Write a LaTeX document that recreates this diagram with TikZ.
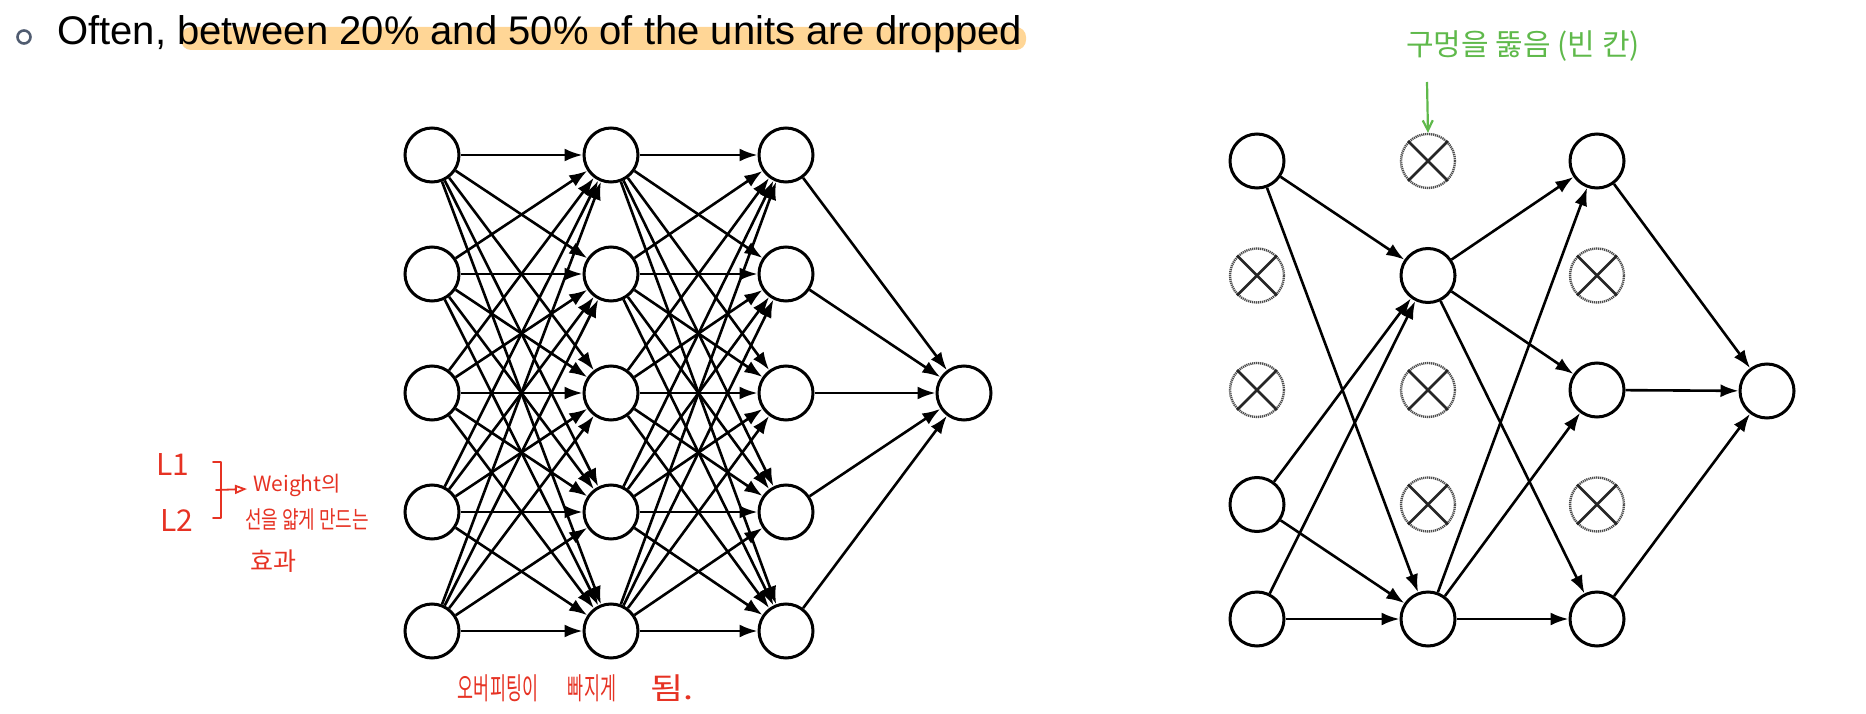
\documentclass[tikz,border=0pt]{standalone}
\usepackage{fontspec}
\newfontfamily\arialf{Liberation Sans}
\newfontfamily\krf{Noto Sans CJK KR}
\usetikzlibrary{arrows.meta}
\definecolor{hl}{RGB}{255,214,150}
\definecolor{pen}{RGB}{230,50,35}
\definecolor{grn}{RGB}{95,185,75}
\definecolor{bul}{RGB}{80,92,112}
\begin{document}
\begin{tikzpicture}[x=1pt,y=-1pt,
 unit/.style={circle,draw=black,line width=3pt,minimum size=54pt,inner sep=0pt,fill=white},
 dropunit/.style={circle,draw=black!70,line width=2.4pt,dash pattern=on 1.2pt off 0.8pt,minimum size=54pt,inner sep=0pt,fill=white},
 conn/.style={line width=2.6pt,-{Latex[length=18pt,width=13pt]}},
 xline/.style={line width=2.6pt,black!85},
 redtxt/.style={text=pen,inner sep=0pt},
 grntxt/.style={text=grn,inner sep=0pt},
 penline/.style={draw=pen,line width=1.8pt,line cap=round,line join=round}
]
\useasboundingbox (0,0) rectangle (1866,714);
% title
\fill[hl,rounded corners=10pt] (181,27) rectangle (1026,50);
\node[circle,draw=bul,line width=2.6pt,minimum size=13pt,inner sep=0pt] (bullet) at (24,37) {};
\node[anchor=base west,inner sep=0pt,font=\arialf\fontsize{40}{48}\selectfont] (title) at (57,45) {Often, between 20\% and 50\% of the units are dropped};
% left network
\foreach \c/\x in {1/432,2/611,3/786}
  \foreach \r/\y in {1/155,2/274,3/393,4/512,5/631}
    \node[unit] (l\c\r) at (\x,\y) {};
\node[unit] (lo) at (964,393) {};
\foreach \a in {1,...,5}
  \foreach \b in {1,...,5}
    {\draw[conn] (l1\a) -- (l2\b); \draw[conn] (l2\a) -- (l3\b);}
\foreach \a in {1,...,5} \draw[conn] (l3\a) -- (lo);
% right network
\foreach \c/\r/\s/\x/\y in {1/1/unit/1257/161,1/2/dropunit/1257/275.5,1/3/dropunit/1257/390,1/4/unit/1257/504.5,1/5/unit/1257/619,
  2/1/dropunit/1428/161,2/2/unit/1428/275.5,2/3/dropunit/1428/390,2/4/dropunit/1428/504.5,2/5/unit/1428/619,
  3/1/unit/1597/161,3/2/dropunit/1597/275.5,3/3/unit/1597/390,3/4/dropunit/1597/504.5,3/5/unit/1597/619}
  \node[\s] (r\c\r) at (\x,\y) {};
\node[unit] (ro) at (1767,391) {};
\foreach \n in {r12,r13,r21,r23,r24,r32,r34}
  \draw[xline] (\n.north west) -- (\n.south east) (\n.north east) -- (\n.south west);
\foreach \a in {1,4,5}
  \foreach \b in {2,5}
    \draw[conn] (r1\a) -- (r2\b);
\foreach \a in {2,5}
  \foreach \b in {1,3,5}
    \draw[conn] (r2\a) -- (r3\b);
\foreach \a in {1,3,5} \draw[conn] (r3\a) -- (ro);
% green annotation
\node[grntxt,font=\krf\fontsize{30}{32}\selectfont] (gnote) at (1523,46) {구멍을 뚫음 (빈 칸)};
\coordinate (gstart) at (1427,82);
\draw[draw=grn,line width=2.2pt,-{Straight Barb[length=10pt,width=10pt]}] (gstart) -- (r21.north);
% red annotations
\node[redtxt,font=\krf\fontsize{30}{32}\selectfont] (L1) at (173,465) {L1};
\node[redtxt,font=\krf\fontsize{30}{32}\selectfont] (L2) at (177,521) {L2};
\draw[penline] (213,462) -- (221,462) -- (221,518) -- (213,518);
\coordinate (brm) at (216,490);
\coordinate (bra) at (247,489);
\draw[penline,-{Triangle[open,length=12pt,width=9pt]}] (brm) -- (bra);
\node[redtxt,font=\krf\fontsize{21}{24}\selectfont] (w1) at (297,485) {Weight의};
\node[redtxt,font=\krf\fontsize{24}{26}\selectfont] (w2) at (307,520) {\scalebox{0.75}[1]{선을 얇게 만드는}};
\node[redtxt,font=\krf\fontsize{25}{26}\selectfont] (w3) at (273,561) {효과};
\node[redtxt,font=\krf\fontsize{30}{32}\selectfont] (b1) at (498,688) {\scalebox{0.58}[1]{오버피팅이}};
\node[redtxt,font=\krf\fontsize{30}{32}\selectfont] (b2) at (592,688) {\scalebox{0.58}[1]{빠지게}};
\node[redtxt,font=\krf\fontsize{30}{32}\selectfont] (b3) at (672,688) {\scalebox{1.2}[1]{됨.}};
\end{tikzpicture}
\end{document}
